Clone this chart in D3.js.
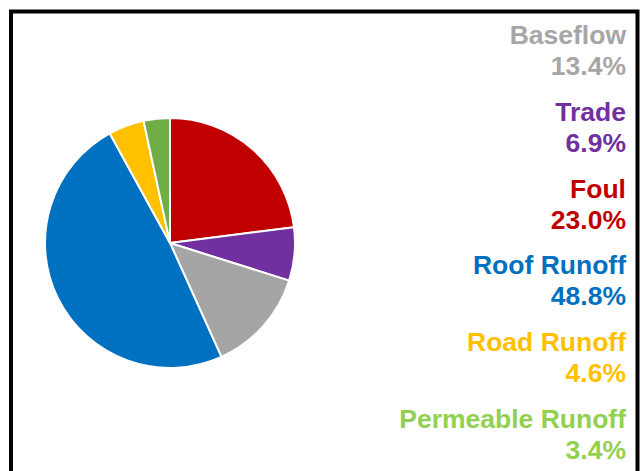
<!DOCTYPE html>
<html>
<head>
<meta charset="utf-8">
<script src="https://cdn.jsdelivr.net/npm/d3@7"></script>
<style>
  body { margin: 0; background: #fff; }
  svg { display: block; }
</style>
</head>
<body>
<div id="chart"></div>
<script>
// pie slices, clockwise from 12 o'clock
const categories = ['Foul', 'Trade', 'Baseflow', 'Roof Runoff', 'Road Runoff', 'Permeable Runoff']
const values = [23.0, 6.9, 13.4, 48.8, 4.6, 3.4]
const sliceColors = ['#c00000', '#7030a0', '#a5a5a5', '#0070c0', '#ffc000', '#70ad47']
const labelColors = ['#c00000', '#7030a0', '#a6a6a6', '#0070c0', '#ffc000', '#92d050']
// order the labels appear on the right
const labelOrder = ['Baseflow', 'Trade', 'Foul', 'Roof Runoff', 'Road Runoff', 'Permeable Runoff']

const width = 640
const height = 471

const svg = d3.select('#chart')
  .append('svg')
  .attr('width', width)
  .attr('height', height)

// frame (open at the bottom)
svg.append('path')
  .attr('d', 'M11,471 V11.5 H637.5 V471')
  .attr('fill', 'none')
  .attr('stroke', '#000')
  .attr('stroke-width', 4)

const data = categories.map((c, i) => ({ name: c, value: values[i], color: sliceColors[i], label: labelColors[i] }))

const pie = d3.pie()
  .sort(null)
  .value(d => d.value)

const arc = d3.arc()
  .innerRadius(0)
  .outerRadius(125)

const g = svg.append('g')
  .attr('transform', 'translate(170,243)')

g.selectAll('path')
  .data(pie(data))
  .enter()
  .append('path')
  .attr('d', arc)
  .attr('fill', d => d.data.color)
  .attr('stroke', '#fff')
  .attr('stroke-width', 2)
  .attr('stroke-linejoin', 'round')

const yScale = d3.scaleLinear()
  .domain([0, labelOrder.length - 1])
  .range([44, 428])

const labels = svg.append('g')
  .attr('font-family', '"Liberation Sans", Arial, sans-serif')
  .attr('font-weight', 'bold')
  .attr('font-size', '26.5px')
  .attr('text-anchor', 'end')

labelOrder.forEach((name, i) => {
  const d = data.find(e => e.name === name)
  const t = labels.append('text')
    .attr('x', 626)
    .attr('y', yScale(i))
    .attr('fill', d.label)
  t.append('tspan').attr('x', 626).text(d.name)
  t.append('tspan').attr('x', 626).attr('dy', 31).text(d.value.toFixed(1) + '%')
})
</script>
</body>
</html>
